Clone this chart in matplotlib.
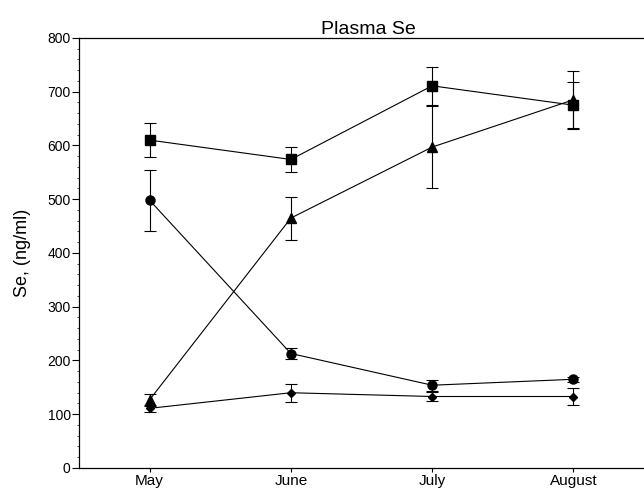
import numpy as np
import matplotlib
matplotlib.use("Agg")
import matplotlib.pyplot as plt
from matplotlib.ticker import MultipleLocator

months = ["May", "June", "July", "August"]

square_mean = [610, 574, 711, 675]
square_err = [31, 24, 35, 43]
triangle_mean = [127, 465, 597, 685]
triangle_err = [11, 40, 77, 54]
circle_mean = [498, 213, 154, 165]
circle_err = [57, 10, 10, 5]
diamond_mean = [111, 140, 133, 133]
diamond_err = [7, 17, 9, 16]

plt.rcParams["font.family"] = ["Liberation Sans", "DejaVu Sans"]

fig = plt.figure(figsize=(6.44, 4.92), dpi=100)
ax = fig.add_axes([0.1227, 0.0488, 0.8773, 0.874])

x = np.arange(len(months))
series = [
    (square_mean, square_err, "s", 6.5),
    (triangle_mean, triangle_err, "^", 6.5),
    (circle_mean, circle_err, "o", 6.5),
    (diamond_mean, diamond_err, "D", 4.5),
]
for mean, err, marker, ms in series:
    ax.errorbar(x, mean, yerr=err, fmt="-", marker=marker, color="black",
                markersize=ms, linewidth=0.8, elinewidth=0.8, capsize=4,
                capthick=0.8)

ax.set_xlim(-0.5, 3.5)
ax.set_ylim(0, 800)
ax.set_xticks(x)
ax.set_xticklabels(months)
ax.yaxis.set_major_locator(MultipleLocator(100))
ax.yaxis.set_minor_locator(MultipleLocator(20))
ax.tick_params(axis="x", direction="out", length=3, width=0.8,
               labelsize=11, pad=1)
ax.tick_params(axis="y", direction="out", length=5, width=0.8,
               labelsize=10, pad=1)
ax.tick_params(axis="y", which="minor", length=1.5, width=0.5)
ax.spines["right"].set_visible(False)
for s in ["left", "bottom", "top"]:
    ax.spines[s].set_linewidth(0.9)

ax.set_ylabel("Se, (ng/ml)", fontsize=13, labelpad=12)
ax.set_title("Plasma Se", fontsize=14, pad=3, x=0.513)

fig.savefig("out.png", dpi=100)
